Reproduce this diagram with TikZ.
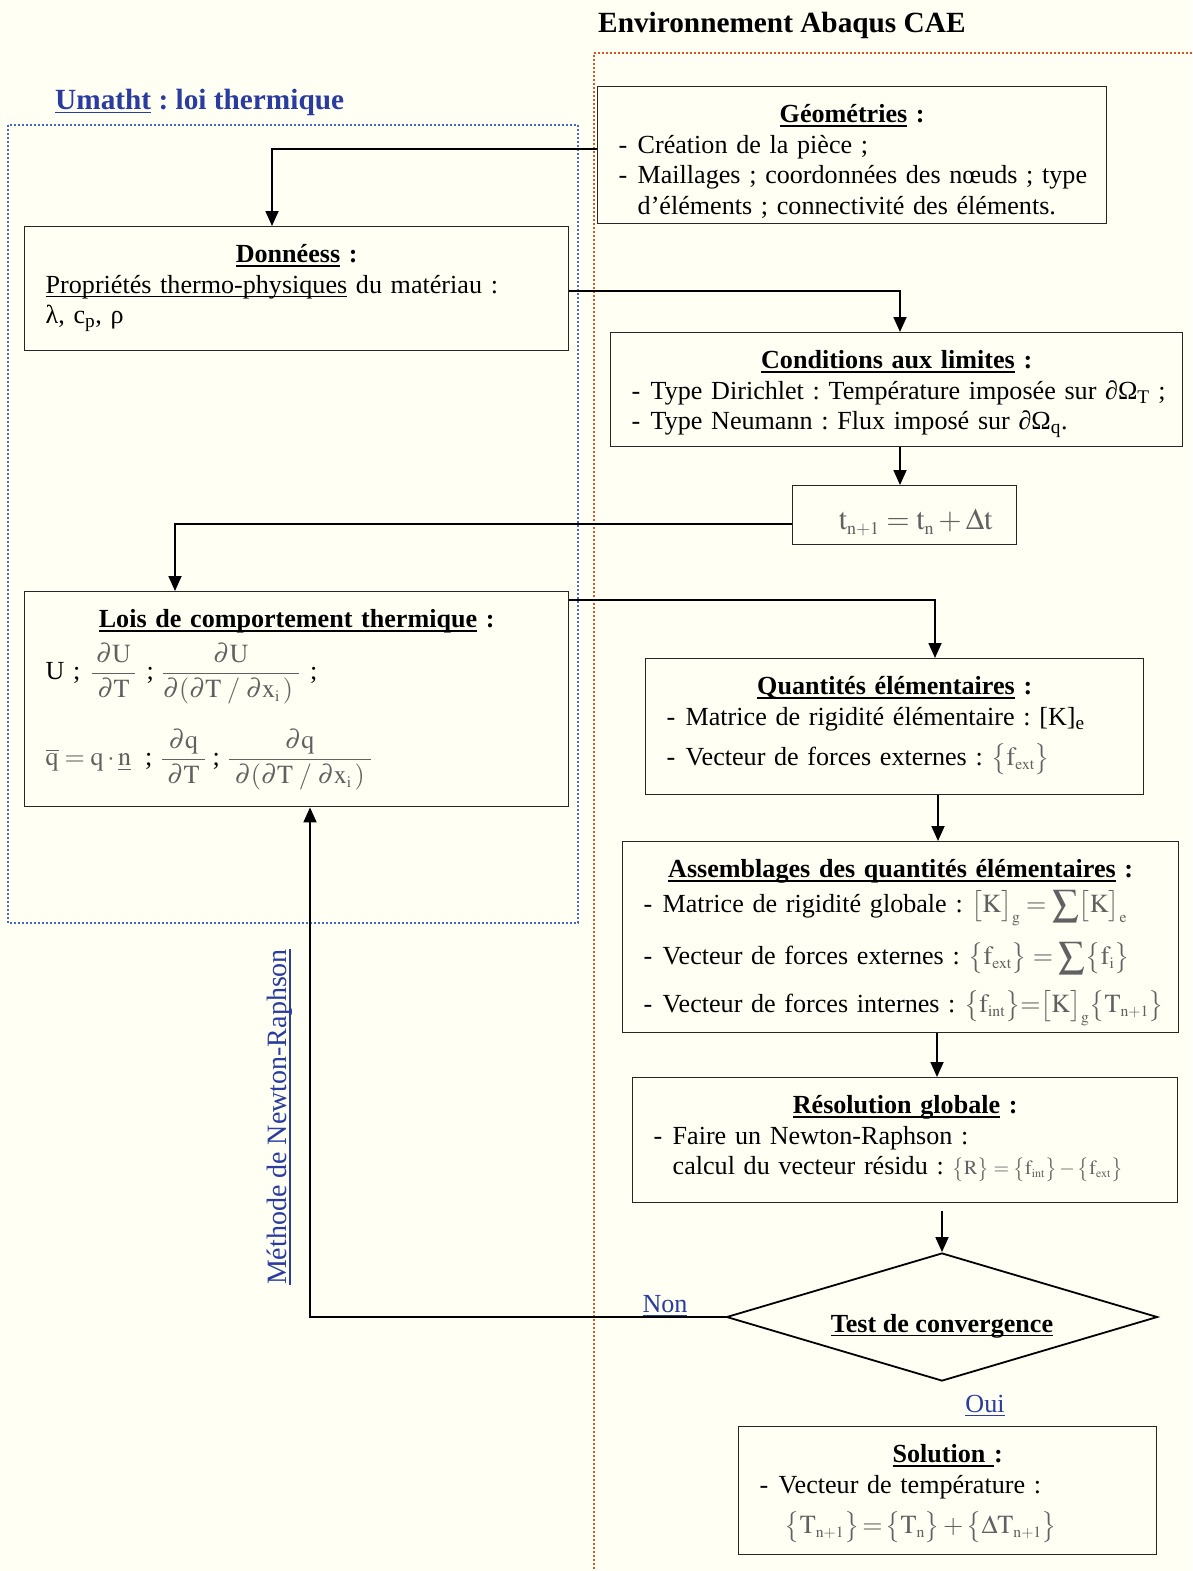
\documentclass[tikz,border=0pt]{standalone}
\usepackage{amsmath}
\usepackage{mathptmx}
\usepackage{fontspec}
\setmainfont{Liberation Serif}
\usetikzlibrary{arrows.meta,positioning,shapes.geometric}

\definecolor{paper}{RGB}{255,255,244}
\definecolor{umblue}{RGB}{42,60,160}
\definecolor{dotblue}{RGB}{72,104,200}
\definecolor{dotred}{RGB}{224,82,36}
\colorlet{eqgrey}{black!62}

\frenchspacing
\newlength\undlw
\newcommand\undl[1]{\leavevmode\settowidth\undlw{#1}\rlap{\rule[-4pt]{\undlw}{1.3pt}}#1}
\newcommand\ttl[1]{\makebox[\linewidth]{\textbf{\undl{#1} :}}}
\newcommand\itm[1]{\makebox[19pt][l]{-}\mbox{#1}}
\newcommand\eqg[1]{\smash{\color{eqgrey}$#1$}}
\newcommand\mr[1]{\mathrm{#1}}
\newcommand\low[1]{_{\scriptscriptstyle\mathrm{#1}}}

\begin{document}
\begin{tikzpicture}[
  x=1pt,y=-1pt,
  font=\fontsize{26.1}{30.5}\selectfont,
  box/.style={draw=black!85,line width=1.4pt,fill=paper,anchor=north west,
    inner xsep=21pt,inner ysep=0pt,align=left,text height=36pt},
  arr/.style={-{Triangle[length=15pt,width=13pt]},line width=1.8pt},
  note/.style={text=umblue,inner sep=0pt},
  dotline/.style={line width=2pt,dash pattern=on 2pt off 2pt}
]
  \fill[paper] (0,0) rectangle (1192,1571);
  \useasboundingbox (0,0) rectangle (1192,1571);

  % frames
  \draw[dotline,dotblue] (8,125) rectangle (578,923);
  \draw[dotline,dotred] (1192,53) -- (594,53) -- (594,1571);

  \node[anchor=base west,inner sep=0pt,font=\bfseries\fontsize{29.3}{34}\selectfont] (env) at (598,33) {Environnement Abaqus CAE};
  \node[note,anchor=base west,font=\bfseries\fontsize{29.3}{34}\selectfont] (umat) at (55,109) {\undl{Umatht} : loi thermique};

  % boxes
  \node[box,text width=467pt,text depth=101pt] (geo) at (597,86) {%
    \ttl{Géométries}\\
    \itm{Création de la pièce ;}\\
    \itm{Maillages ; coordonnées des nœuds ; type}\\
    \hspace*{19pt}d’éléments ; connectivité des éléments.};

  \node[box,text width=502pt,text depth=88pt] (don) at (24,226) {%
    \ttl{Donnéess}\\
    \undl{Propriétés thermo-physiques} du matériau :\\
    λ, c\textsubscript{p}, ρ};

  \node[box,text width=530pt,text depth=78pt] (cond) at (610,332) {%
    \ttl{Conditions aux limites}\\
    \itm{Type Dirichlet : Température imposée sur ∂Ω\textsubscript{T} ;}\\
    \itm{Type Neumann : Flux imposé sur ∂Ω\textsubscript{q}.}};

  \node[box,align=center,minimum width=224pt,text height=44pt,text depth=15pt,
    font=\fontsize{30}{34}\selectfont] (tbox) at (792,485) {%
    \hspace*{22pt}\eqg{\mr{t}\low{n+1}=\mr{t}\low{n}+\Delta\mr{t}}};

  \node[box,text width=502pt,text depth=179pt] (lois) at (24,591) {%
    \ttl{Lois de comportement thermique}\\[21.5pt]
    U ;\hspace{10pt}\eqg{\dfrac{\partial\mr{U}}{\;\partial\mr{T}\;}}\hspace{10pt};\hspace{8pt}\eqg{\dfrac{\partial\mr{U}}{\partial(\partial\mr{T}\;/\;\partial\mr{x}\low{i}\,)\;}}\hspace{10pt};\\[55.5pt]
    \eqg{\overline{\mr{q}}=\mr{q}\cdot\underline{\mr{n}}}\hspace{14pt};\hspace{8pt}\eqg{\dfrac{\partial\mr{q}}{\;\partial\mr{T}\;}}\hspace{6pt};\hspace{8pt}\eqg{\dfrac{\partial\mr{q}}{\;\partial(\partial\mr{T}\;/\;\partial\mr{x}\low{i}\,)\;}}};

  \node[box,text width=456pt,text depth=100pt] (quant) at (645,658) {%
    \ttl{Quantités élémentaires}\\
    \itm{Matrice de rigidité élémentaire : [K]\textsubscript{e}}\\[9.5pt]
    \itm{Vecteur de forces externes : \eqg{\bigl\{\mr{f}\low{ext}\bigr\}}}};

  \node[box,text width=514pt,text depth=155pt] (assem) at (622,841) {%
    \ttl{Assemblages des quantités élémentaires}\\[4.5pt]
    \itm{Matrice de rigidité globale : \eqg{\bigl[\mr{K}\bigr]\low{g}=\displaystyle\sum\bigl[\mr{K}\bigr]\low{e}}}\\[21.5pt]
    \itm{Vecteur de forces externes : \eqg{\bigl\{\mr{f}\low{ext}\bigr\}=\displaystyle\sum\bigl\{\mr{f}\low{i}\bigr\}}}\\[17.5pt]
    \itm{Vecteur de forces internes : \eqg{\bigl\{\mr{f}\low{int}\bigr\}{=}\bigl[\mr{K}\bigr]\low{g}\bigl\{\mr{T}\low{n+1}\bigr\}}}};

  \node[box,text width=503pt,text depth=89pt] (resol) at (632,1077) {%
    \ttl{Résolution globale}\\
    \itm{Faire un Newton-Raphson :}\\
    \hspace*{19pt}calcul du vecteur résidu : {\fontsize{20}{24}\selectfont\eqg{\bigl\{\mr{R}\bigr\}=\bigl\{\mr{f}\low{int}\bigr\}-\bigl\{\mr{f}\low{ext}\bigr\}}}};

  \node[diamond,draw=black,line width=1.8pt,fill=paper,aspect=3.37,inner sep=0pt,
    minimum width=431pt,minimum height=128pt] (test) at (942,1317) {%
    \raisebox{-15pt}[0pt][0pt]{\textbf{\undl{Test de convergence}}}};

  \node[box,text width=376pt,text depth=92pt] (sol) at (738,1426) {%
    \makebox[\linewidth]{\textbf{\undl{Solution\ }:}}\\
    \itm{Vecteur de température :}\\[9.5pt]
    \hspace*{25pt}\eqg{\bigl\{\mr{T}\low{n+1}\bigr\}\,{=}\,\bigl\{\mr{T}\low{n}\bigr\}\,{+}\,\bigl\{\Delta\mr{T}\low{n+1}\bigr\}}};

  % labels
  \node[note,anchor=base] (non) at (665,1312) {\undl{Non}};
  \node[note,anchor=base] (oui) at (985,1412) {\undl{Oui}};
  \node[note,rotate=90,font=\fontsize{28}{32}\selectfont] (newton) at (280,1117) {\undl{Méthode de Newton-Raphson}};

  % connectors
  \draw[arr] ([yshift=6.5pt]geo.west) -| ([xshift=248pt]don.north west);
  \draw[arr] ([yshift=-2pt]don.east) -| ([xshift=290pt]cond.north west);
  \draw[arr] ([xshift=290pt]cond.south west) -- ([xshift=108pt]tbox.north west);
  \draw[arr] ([yshift=-8.5pt]tbox.west) -| ([xshift=151pt]lois.north west);
  \draw[arr] ([yshift=-9pt]lois.north east) -| ([xshift=290pt]quant.north west);
  \draw[arr] ([xshift=293pt]quant.south west) -- ([xshift=316pt]assem.north west);
  \draw[arr] ([xshift=315pt]assem.south west) -- ([xshift=305pt]resol.north west);
  \draw[arr] ([yshift=-8pt]test.north |- resol.south) -- (test.north);
  \draw[arr] (test.west) -| ([xshift=286pt]lois.south west);
\end{tikzpicture}
\end{document}
